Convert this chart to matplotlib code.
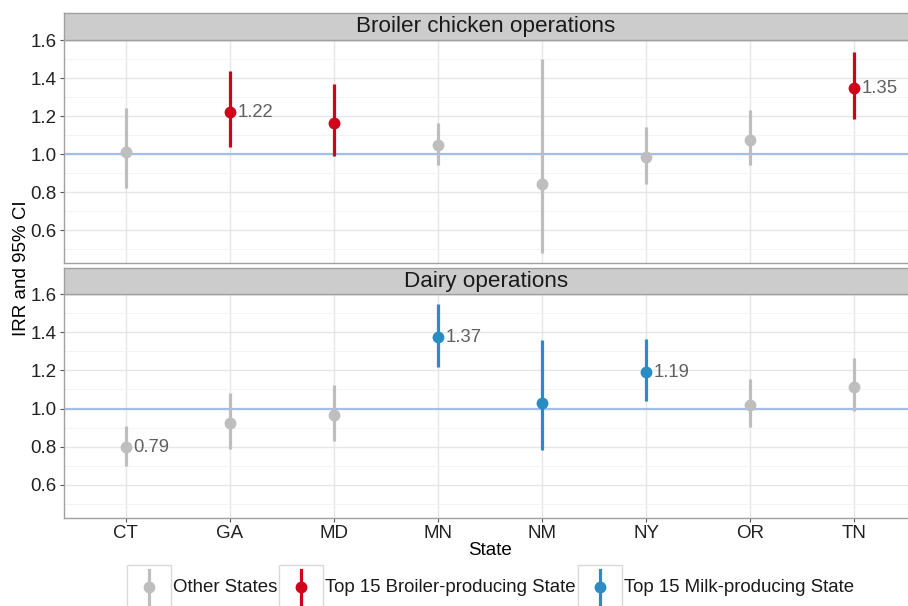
import numpy as np
import matplotlib
matplotlib.use("Agg")
import matplotlib.pyplot as plt
from matplotlib.patches import Rectangle
from matplotlib.lines import Line2D

plt.rcParams["font.family"] = ["Liberation Sans", "DejaVu Sans"]

# --- data ---
states = ["CT", "GA", "MD", "MN", "NM", "NY", "OR", "TN"]
panels = ["Broiler chicken operations", "Dairy operations"]

broiler_irr = [1.01, 1.22, 1.165, 1.05, 0.845, 0.983, 1.075, 1.346]
broiler_lo = [0.82, 1.035, 0.99, 0.942, 0.48, 0.845, 0.945, 1.187]
broiler_hi = [1.242, 1.438, 1.371, 1.166, 1.498, 1.145, 1.23, 1.537]
broiler_grp = ["other", "broiler", "broiler", "other", "other", "other", "other", "broiler"]
broiler_lab = ["", "1.22", "", "", "", "", "", "1.35"]

dairy_irr = [0.798, 0.924, 0.968, 1.374, 1.03, 1.19, 1.02, 1.114]
dairy_lo = [0.698, 0.787, 0.83, 1.216, 0.784, 1.038, 0.903, 0.986]
dairy_hi = [0.908, 1.082, 1.126, 1.547, 1.36, 1.363, 1.154, 1.263]
dairy_grp = ["other", "other", "other", "milk", "milk", "milk", "other", "other"]
dairy_lab = ["0.79", "", "", "1.37", "", "1.19", "", ""]

groups = ["other", "broiler", "milk"]
group_names = ["Other States", "Top 15 Broiler-producing State", "Top 15 Milk-producing State"]
group_cols = {"other": "#BEBEBE", "broiler": "#D0021B", "milk": "#2B8CC4"}

W, H = 908, 606
fig = plt.figure(figsize=(W / 100, H / 100), dpi=100)


def px_axes(x0, y0, x1, y1, **kw):
    # axes from pixel box (top-left origin)
    return fig.add_axes([x0 / W, 1 - y1 / H, (x1 - x0) / W, (y1 - y0) / H], **kw)


all_lo = broiler_lo + dairy_lo
all_hi = broiler_hi + dairy_hi
pad = 0.05 * (max(all_hi) - min(all_lo))
ylim = (min(all_lo) - pad, max(all_hi) + pad)

panel_data = [
    (broiler_irr, broiler_lo, broiler_hi, broiler_grp, broiler_lab),
    (dairy_irr, dairy_lo, dairy_hi, dairy_grp, dairy_lab),
]
boxes = [(13, 40, 263), (268, 294, 518)]
x = np.arange(1, len(states) + 1)

for k, (title, (irr, lo, hi, grp, lab), (st, top, bot)) in enumerate(zip(panels, panel_data, boxes)):
    ax = px_axes(63.5, top, 916.5, bot)
    ax.set_xlim(0.4, len(states) + 0.6)
    ax.set_ylim(*ylim)
    ax.set_yticks([0.6, 0.8, 1.0, 1.2, 1.4, 1.6])
    ax.set_yticks(np.arange(0.5, 1.61, 0.2), minor=True)
    ax.set_xticks(x)
    ax.grid(which="major", color="#E6E6E6", lw=1.0)
    ax.grid(which="minor", axis="y", color="#F3F3F3", lw=0.7)
    ax.set_axisbelow(True)
    for s in ax.spines.values():
        s.set_color("#A0A0A0")
        s.set_linewidth(1.0)
    ax.tick_params(axis="y", which="major", length=3, color="#555555", labelsize=13.5, labelcolor="#222222", pad=2)
    ax.tick_params(axis="y", which="minor", length=0)
    if k == 0:
        ax.tick_params(axis="x", length=0, labelbottom=False)
    else:
        ax.set_xticklabels(states)
        ax.tick_params(axis="x", length=3, color="#555555", labelsize=13.5, labelcolor="#222222", pad=2)
        ax.set_xlabel("State", fontsize=13.5, labelpad=0)

    ax.axhline(1.0, color="#A4BEE6", lw=1.6, zorder=1)
    for i in range(len(states)):
        c = group_cols[grp[i]]
        ax.vlines(x[i], lo[i], hi[i], color=c, lw=2.3, zorder=2)
        ax.plot(x[i], irr[i], "o", color=c, ms=7.5, zorder=3)
        if lab[i]:
            ax.text(x[i] + 0.07, irr[i], lab[i], color="#606060", fontsize=13.3,
                    va="center", ha="left")

    sax = px_axes(63.5, st, 916.5, top)
    sax.set_facecolor("#CCCCCC")
    sax.set_xticks([])
    sax.set_yticks([])
    for s in sax.spines.values():
        s.set_color("#A0A0A0")
        s.set_linewidth(1.0)
    sax.text(0.5 * (908 - 63.5) / (916.5 - 63.5), 0.5, title, transform=sax.transAxes,
             ha="center", va="center", fontsize=16.2, color="#1A1A1A")

fig.text(22 / W, 1 - 268 / H, "IRR and 95% CI", rotation=90, ha="center", va="center", fontsize=13.5)

# --- legend (ggplot style keys at bottom) ---
key_left = [127, 279, 578]
lax = px_axes(0, 0, W, H)
lax.set_xlim(0, W)
lax.set_ylim(H, 0)
lax.axis("off")
for g, name, kx in zip(groups, group_names, key_left):
    c = group_cols[g]
    lax.add_patch(Rectangle((kx, 565), 44, 50, facecolor="white", edgecolor="#D9D9D9", lw=1.0))
    lax.add_line(Line2D([kx + 22, kx + 22], [570, 605], color=c, lw=2.3))
    lax.plot(kx + 22, 587, "o", color=c, ms=7.5)
    lax.text(kx + 46, 588, name, ha="left", va="center", fontsize=13.4, color="#1A1A1A")

fig.savefig("out.png", dpi=100)
